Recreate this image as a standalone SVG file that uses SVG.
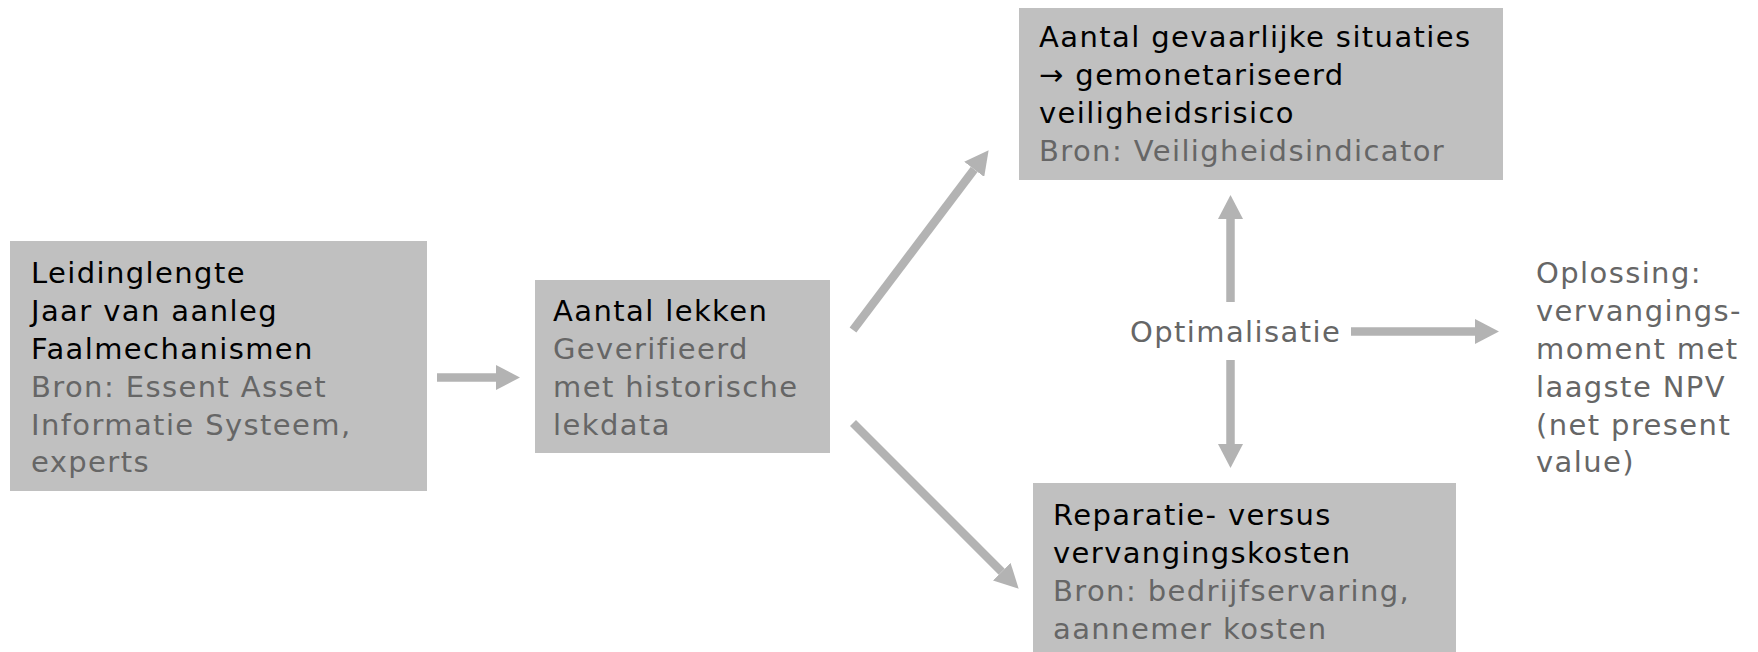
<svg xmlns="http://www.w3.org/2000/svg" width="1758" height="652" viewBox="0 0 1758 652">
<style>
  .box { fill: #c0c0c0; }
  text { font-family: "DejaVu Sans", Verdana, sans-serif; font-size: 29px; letter-spacing: 1.4px; }
  .main { fill: #000000; }
  .sub { fill: #666666; }
  .conn { stroke: #b3b3b3; stroke-width: 8.5; fill: none; stroke-linecap: butt; marker-end: url(#head); }
</style>
<defs>
  <marker id="head" markerUnits="userSpaceOnUse" markerWidth="24" markerHeight="25" viewBox="0 0 23 24" refX="0" refY="12" orient="auto">
    <path d="M0,0 L23,12 L0,24 Z" fill="#b3b3b3"/>
  </marker>
</defs>
<rect width="1758" height="652" fill="#ffffff"/>
<g id="connectors">
  <line class="conn" x1="437" y1="377.5" x2="496" y2="377.5"/>
  <line class="conn" x1="853" y1="330" x2="974.2" y2="169.4"/>
  <line class="conn" x1="853" y1="423" x2="1001.7" y2="571.7"/>
  <line class="conn" x1="1230.5" y1="302" x2="1230.5" y2="219"/>
  <line class="conn" x1="1230.5" y1="360" x2="1230.5" y2="444"/>
  <line class="conn" x1="1351" y1="331.5" x2="1475" y2="331.5"/>
</g>
<g id="node-inputs">
  <rect class="box" x="10" y="241" width="417" height="250"/>
  <text class="main" x="31" y="283">Leidinglengte</text>
  <text class="main" x="31" y="321">Jaar van aanleg</text>
  <text class="main" x="31" y="359">Faalmechanismen</text>
  <text class="sub" x="31" y="397">Bron: Essent Asset</text>
  <text class="sub" x="31" y="435">Informatie Systeem,</text>
  <text class="sub" x="31" y="472">experts</text>
</g>
<g id="node-lekken">
  <rect class="box" x="535" y="280" width="295" height="173"/>
  <text class="main" x="553" y="321">Aantal lekken</text>
  <text class="sub" x="553" y="359">Geverifieerd</text>
  <text class="sub" x="553" y="397">met historische</text>
  <text class="sub" x="553" y="435">lekdata</text>
</g>
<g id="node-veiligheid">
  <rect class="box" x="1019" y="8" width="484" height="172"/>
  <text class="main" x="1039" y="47">Aantal gevaarlijke situaties</text>
  <text class="main" x="1039" y="85">→ gemonetariseerd</text>
  <text class="main" x="1039" y="123">veiligheidsrisico</text>
  <text class="sub" x="1039" y="161">Bron: Veiligheidsindicator</text>
</g>
<g id="node-kosten">
  <rect class="box" x="1033" y="483" width="423" height="169"/>
  <text class="main" x="1053" y="525">Reparatie- versus</text>
  <text class="main" x="1053" y="563">vervangingskosten</text>
  <text class="sub" x="1053" y="601">Bron: bedrijfservaring,</text>
  <text class="sub" x="1053" y="639">aannemer kosten</text>
</g>
<g id="node-optimalisatie">
  <text class="sub" x="1130" y="342">Optimalisatie</text>
</g>
<g id="node-oplossing">
  <text class="sub" x="1536" y="283">Oplossing:</text>
  <text class="sub" x="1536" y="321">vervangings-</text>
  <text class="sub" x="1536" y="359">moment met</text>
  <text class="sub" x="1536" y="397">laagste NPV</text>
  <text class="sub" x="1536" y="435">(net present</text>
  <text class="sub" x="1536" y="472">value)</text>
</g>
</svg>
